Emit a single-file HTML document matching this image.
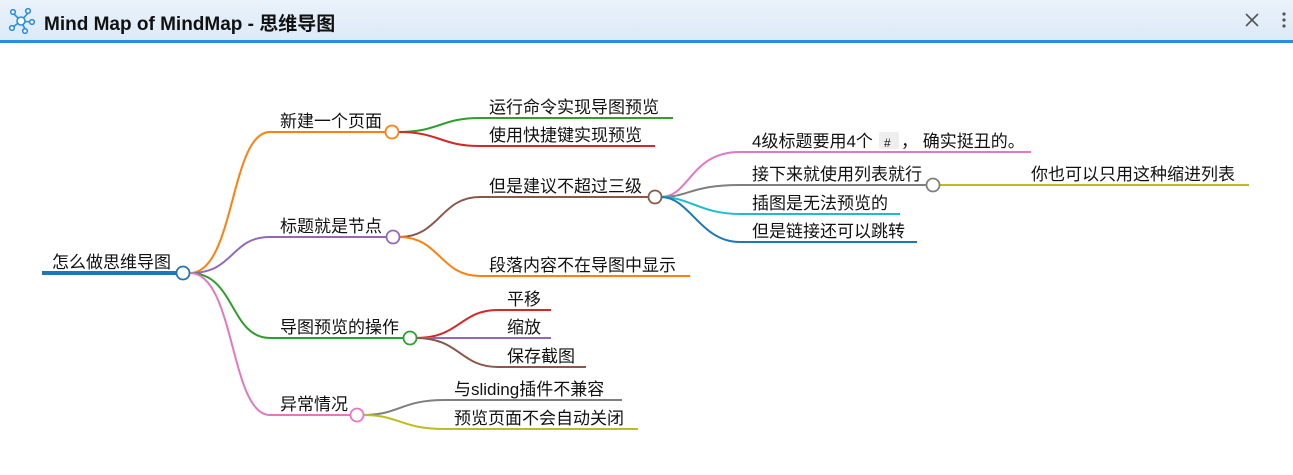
<!DOCTYPE html>
<html><head><meta charset="utf-8"><style>
html,body{margin:0;padding:0;background:#fff;width:1293px;height:475px;overflow:hidden}
.bar{position:absolute;left:0;top:0;width:1293px;height:40px;background:linear-gradient(#eaf2fa,#dceaf8);border-bottom:3px solid #2b8de0}
.t{position:absolute;left:44px;top:9px;font:600 19px "Liberation Sans","Noto Sans CJK SC",sans-serif;color:#111}
svg text{font-family:"Liberation Sans","Noto Sans CJK SC",sans-serif;font-size:17px;fill:#111}
</style></head><body>
<div class="bar"><div class="t">Mind Map of MindMap - 思维导图</div></div>
<svg style="position:absolute;left:0;top:0" width="1293" height="475">
<g stroke="#2b8de0" stroke-width="1.6" fill="#fff">
<line x1="21" y1="21" x2="14" y2="14"/><line x1="21" y1="21" x2="28" y2="13"/><line x1="21" y1="21" x2="13" y2="27"/><line x1="21" y1="21" x2="25" y2="29"/><line x1="21" y1="21" x2="31" y2="22"/>
<circle cx="21" cy="21" r="4"/><circle cx="13" cy="12" r="2.3"/><circle cx="28" cy="11" r="2.3"/><circle cx="12" cy="28" r="2.3"/><circle cx="25" cy="31" r="2.3"/><circle cx="32" cy="22" r="2.3"/>
</g>
<g stroke="#555" stroke-width="1.6"><line x1="1246" y1="14" x2="1258" y2="26"/><line x1="1258" y1="14" x2="1246" y2="26"/></g>
<g fill="#555"><circle cx="1284" cy="14" r="1.6"/><circle cx="1284" cy="20" r="1.6"/><circle cx="1284" cy="26" r="1.6"/></g>
<g fill="none" stroke-width="2">
<line x1="42" y1="273" x2="183" y2="273" stroke="#1f77b4" stroke-width="4"/>
<path d="M190 273 C235 273 230 132 270 132 L392 132" stroke="#ff7f0e"/>
<path d="M190 273 C235 273 230 237 270 237 L393 237" stroke="#9467bd"/>
<path d="M190 273 C235 273 230 338 270 338 L410 338" stroke="#2ca02c"/>
<path d="M190 273 C235 273 230 415 270 415 L357 415" stroke="#e377c2"/>
<path d="M398 132 C440 132 440 118 480 118 L673 118" stroke="#2ca02c"/>
<path d="M398 132 C440 132 440 146 480 146 L655 146" stroke="#d62728"/>
<path d="M399 237 C440 237 440 197 480 197 L650 197" stroke="#8c564b"/>
<path d="M399 237 C440 237 440 276 480 276 L690 276" stroke="#ff7f0e"/>
<path d="M416 338 C460 338 460 310 498 310 L551 310" stroke="#d62728"/>
<path d="M416 338 L551 338" stroke="#9467bd"/>
<path d="M416 338 C460 338 460 367 498 367 L586 367" stroke="#8c564b"/>
<path d="M363 415 C400 415 400 400 445 400 L622 400" stroke="#7f7f7f"/>
<path d="M363 415 C400 415 400 429 445 429 L638 429" stroke="#bcbd22"/>
<path d="M661 197 C690 197 690 152 740 152 L1031 152" stroke="#e377c2"/>
<path d="M661 197 C690 197 690 185 740 185 L927 185" stroke="#7f7f7f"/>
<path d="M661 197 C690 197 700 214 740 214 L900 214" stroke="#17becf"/>
<path d="M661 197 C690 197 700 242 740 242 L917 242" stroke="#1f77b4"/>
<path d="M940 185 L1249 185" stroke="#bcbd22"/>
</g>
<g fill="#fff" stroke-width="1.8">
<circle cx="183" cy="273" r="6.5" stroke="#1f77b4"/>
<circle cx="392" cy="132" r="6.5" stroke="#ff7f0e"/>
<circle cx="393" cy="237" r="6.5" stroke="#9467bd"/>
<circle cx="410" cy="338" r="6.5" stroke="#2ca02c"/>
<circle cx="357" cy="415" r="6.5" stroke="#e377c2"/>
<circle cx="655" cy="197" r="6.5" stroke="#8c564b"/>
<circle cx="933" cy="185" r="6.5" stroke="#7f7f7f"/>
</g>
<text x="52" y="268">怎么做思维导图</text>
<text x="280" y="127">新建一个页面</text>
<text x="280" y="232">标题就是节点</text>
<text x="280" y="333">导图预览的操作</text>
<text x="280" y="410">异常情况</text>
<text x="489" y="113">运行命令实现导图预览</text>
<text x="489" y="141">使用快捷键实现预览</text>
<text x="489" y="192">但是建议不超过三级</text>
<text x="489" y="271">段落内容不在导图中显示</text>
<text x="507" y="305">平移</text>
<text x="507" y="333">缩放</text>
<text x="507" y="362">保存截图</text>
<text x="454" y="395">与sliding插件不兼容</text>
<text x="454" y="424">预览页面不会自动关闭</text>
<rect x="879" y="132" width="20" height="17" fill="#eee" rx="2"/>
<text x="752" y="147">4级标题要用4个<tspan x="884" font-size="12">#</tspan><tspan x="901">， 确实挺丑的。</tspan></text>
<text x="752" y="180">接下来就使用列表就行</text>
<text x="752" y="209">插图是无法预览的</text>
<text x="752" y="237">但是链接还可以跳转</text>
<text x="1031" y="180">你也可以只用这种缩进列表</text>
</svg>
</body></html>
